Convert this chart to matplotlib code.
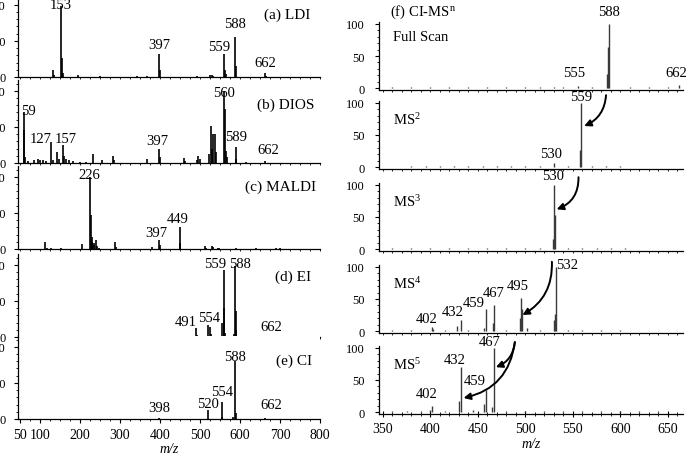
import matplotlib.pyplot as plt
from matplotlib.ticker import MultipleLocator, FixedLocator

plt.rcParams['font.family'] = ['Liberation Serif', 'DejaVu Serif']
plt.rcParams['mathtext.fontset'] = 'custom'
plt.rcParams['mathtext.rm'] = 'Liberation Serif'
plt.rcParams['mathtext.it'] = 'Liberation Serif:italic'

# ---- left column spectra (m/z, relative intensity) ----
ldi_mz = [133, 135, 153, 155, 158, 195, 250, 342, 367, 397, 399, 492, 525, 529, 533,
          559, 562, 565, 588, 590, 662, 665]
ldi_int = [10, 3, 98, 26, 6, 3, 2, 1, 1, 32, 10, 1, 3, 3, 2,
           32, 10, 4, 55, 15, 6, 2]

dios_mz = [59, 61, 63, 70, 85, 95, 100, 108, 115, 127, 133, 142, 147, 157, 160, 165,
           172, 182, 200, 215, 233, 254, 282, 284, 367, 397, 399, 461, 463, 492, 496,
           500, 523, 527, 530, 533, 537, 540, 560, 562, 565, 568, 589, 591, 615, 662]
dios_int = [70, 46, 8, 3, 4, 5, 4, 4, 3, 29, 4, 15, 5, 25, 10, 6,
            4, 3, 2, 2, 13, 4, 10, 4, 5, 20, 8, 7, 3, 4, 10,
            6, 12, 51, 20, 40, 40, 15, 100, 75, 17, 8, 22, 5, 2, 3]

maldi_mz = [113, 117, 127, 153, 204, 226, 227, 229, 231, 234, 236, 240, 242, 247,
            288, 290, 379, 397, 399, 449, 451, 513, 515, 529, 532, 546, 548, 590,
            640, 690, 700]
maldi_int = [10, 2, 2, 1, 7, 100, 47, 16, 10, 8, 6, 12, 4, 2,
             10, 3, 3, 13, 5, 31, 8, 4, 2, 4, 3, 2, 2, 1,
             1, 1, 1]

ei_mz = [120, 160, 200, 240, 280, 320, 360, 400, 440, 470, 491, 493, 521, 524, 527,
         555, 559, 560, 561, 563, 586, 588, 589, 590, 637, 662]
ei_int = [0.7, 0.7, 0.7, 0.7, 0.7, 0.7, 0.7, 0.7, 0.7, 0.7, 12, 3, 16, 14, 4,
          19, 93, 40, 21, 5, 4, 98, 36, 10, 1, 2]

ci_mz = [150, 250, 300, 350, 398, 450, 500, 520, 554, 556, 583, 588, 590, 662, 700]
ci_int = [0.6, 0.6, 0.6, 0.6, 1, 0.6, 0.6, 13, 23, 3, 3, 80, 8, 1, 0.6]

# ---- right column spectra (CI-MSn) ----
full_mz = [360, 380, 400, 420, 440, 460, 480, 500, 515, 530, 540, 555, 570, 586, 587,
           588, 610, 630, 650, 662]
full_int = [1, 1, 1, 1, 1, 1, 1, 1, 2, 1, 1, 3, 1, 22, 64, 100, 1, 1, 1, 5]

ms2_mz = [380, 395, 410, 425, 440, 455, 470, 485, 500, 515, 530, 545, 558, 559, 570,
          585, 600]
ms2_int = [1, 1, 1, 1, 1, 1, 1, 1, 1, 1, 7, 1, 26, 100, 1, 1, 1]

ms3_mz = [360, 380, 400, 420, 440, 460, 480, 500, 515, 529, 530, 531, 545, 560, 575,
          590, 605]
ms3_int = [1, 1, 1, 1, 1, 1, 1, 1, 1, 15, 100, 53, 1, 1, 2, 1, 1]

ms4_mz = [360, 380, 402, 403, 415, 428, 432, 440, 457, 459, 466, 467, 480, 494, 495,
          496, 502, 515, 530, 531, 532, 545, 560, 580, 600]
ms4_int = [2, 1, 6, 3, 1, 8, 18, 2, 5, 35, 12, 40, 1, 20, 52, 35, 5, 1, 17, 27, 100,
           1, 1, 1, 1]

ms5_mz = [360, 375, 390, 400, 402, 415, 430, 432, 445, 457, 459, 465, 467, 480, 500,
          520, 540, 560, 580, 600, 620, 640]
ms5_int = [1, 1, 1, 4, 9, 1, 18, 71, 3, 12, 34, 8, 100, 1, 1, 1, 1, 1, 1, 1, 1, 1]

# peak labels: (text, m/z, height)
ldi_labels = [('153', 153, 92), ('397', 397, 36), ('559', 547, 33), ('588', 588, 65),
              ('662', 662, 11)]
dios_labels = [('59', 70, 64), ('127', 102, 25), ('157', 164, 25), ('397', 394, 22),
               ('560', 560, 89), ('589', 589, 28), ('662', 670, 10)]
maldi_labels = [('226', 224, 94), ('397', 390, 14), ('449', 445, 33)]
ei_labels = [('559', 537, 93), ('588', 600, 93), ('491', 465, 12), ('554', 523, 18),
             ('662', 678, 5)]
ci_labels = [('398', 398, 7), ('520', 520, 12), ('554', 554, 29), ('588', 588, 78),
             ('662', 678, 11)]

full_labels = [('555', 551, 14), ('588', 588, 109), ('662', 659, 14)]
ms2_labels = [('559', 559, 100), ('530', 527, 11)]
ms3_labels = [('530', 529, 105)]
ms4_labels = [('532', 544, 94), ('495', 492, 61), ('467', 467, 50), ('459', 446, 34),
              ('432', 424, 20), ('402', 396, 9)]
ms5_labels = [('467', 462, 100), ('432', 426, 72), ('459', 447, 39), ('402', 396, 19)]

left_sets = [(ldi_mz, ldi_int, ldi_labels, '(a) LDI', 0.89, 0.76),
             (dios_mz, dios_int, dios_labels, '(b) DIOS', 0.885, 0.71),
             (maldi_mz, maldi_int, maldi_labels, '(c) MALDI', 0.87, 0.76),
             (ei_mz, ei_int, ei_labels, '(d) EI', 0.91, 0.73),
             (ci_mz, ci_int, ci_labels, '(e) CI', 0.915, 0.71)]

right_sets = [(full_mz, full_int, full_labels, 'Full Scan'),
              (ms2_mz, ms2_int, ms2_labels, 'MS$^2$'),
              (ms3_mz, ms3_int, ms3_labels, 'MS$^3$'),
              (ms4_mz, ms4_int, ms4_labels, 'MS$^4$'),
              (ms5_mz, ms5_int, ms5_labels, 'MS$^5$')]

W, H = 687, 456
fig = plt.figure(figsize=(W / 100, H / 100), dpi=100)


def add_ax(x, ybot, w, h):
    return fig.add_axes([x / W, 1 - ybot / H, w / W, h / H])


def style(ax):
    for s in ['top', 'right']:
        ax.spines[s].set_visible(False)
    for s in ['left', 'bottom']:
        ax.spines[s].set_linewidth(0.9)
    ax.tick_params(axis='y', which='major', length=3, width=0.8, pad=6, labelsize=9)
    ax.tick_params(axis='y', which='minor', length=1.5, width=0.6)
    ax.tick_params(axis='x', which='major', length=3, width=0.8, labelsize=10)
    ax.tick_params(axis='x', which='minor', length=1.5, width=0.6)
    ax.yaxis.set_major_locator(FixedLocator([0, 50, 100]))
    ax.yaxis.set_minor_locator(MultipleLocator(10))


# left column
left_bottoms = [78, 164, 250, 338, 420]
for i, (mz, inten, labels, title, tx, ty) in enumerate(left_sets):
    ax = add_ax(18, left_bottoms[i], 302, 83)
    ax.vlines(mz, 0, inten, color='black', linewidth=1.2)
    ax.set_xlim(45, 800)
    ax.set_ylim(0, 115)
    style(ax)
    ax.xaxis.set_minor_locator(MultipleLocator(25))
    for txt, x, y in labels:
        ax.text(x, y, txt, ha='center', va='bottom', fontsize=10.5)
    ax.text(tx, ty, title, transform=ax.transAxes, ha='center', va='center', fontsize=11)
    if i < 4:
        ax.set_xticks([])
        ax.xaxis.set_minor_locator(MultipleLocator(25))
        ax.tick_params(axis='x', which='minor', length=1.2)
    else:
        ax.set_xticks([50, 100, 200, 300, 400, 500, 600, 700, 800])
        ax.set_xlabel('m/z', fontstyle='italic', fontsize=10, labelpad=1)

# right column
right_axes = []
right_bottoms = [91, 170, 252, 334, 415]
for i, (mz, inten, labels, title) in enumerate(right_sets):
    ax = add_ax(379, right_bottoms[i], 304, 68)
    ax.vlines(mz, 0, inten, color='#3a3a3a', linewidth=1.0)
    ax.set_xlim(346, 666)
    ax.set_ylim(-3, 103)
    style(ax)
    ax.tick_params(axis='y', labelsize=9, pad=7)
    ax.xaxis.set_minor_locator(MultipleLocator(10))
    for txt, x, y in labels:
        ax.text(x, y, txt, ha='center', va='bottom', fontsize=10.5)
    ax.text(0.045, 0.78 if i == 0 else 0.74, title, transform=ax.transAxes,
            ha='left', va='center', fontsize=10.5)
    if i < 4:
        ax.set_xticks([])
        ax.tick_params(axis='x', which='minor', length=1.2)
    else:
        ax.set_xticks([350, 400, 450, 500, 550, 600, 650])
        ax.tick_params(axis='x', which='both', direction='inout')
        ax.tick_params(axis='x', which='major', length=5)
        ax.tick_params(axis='x', which='minor', length=3)
        ax.set_xlabel('m/z', fontstyle='italic', fontsize=10, labelpad=1)
    right_axes.append(ax)

right_axes[0].text(0.036, 1.03, '(f) CI-MS$^{\\rm n}$', transform=right_axes[0].transAxes,
                   ha='left', va='bottom', fontsize=10.5)

# precursor -> product arrows
arrow_kw = dict(arrowstyle='-|>', color='black', lw=1.4, mutation_scale=10,
                shrinkA=0, shrinkB=0)
arrows = [(1, (585, 112), (562, 64), -0.3),
          (2, (556, 112), (533, 62), -0.35),
          (3, (528, 108), (497, 25), -0.3),
          (4, (489, 109), (469, 70), -0.3),
          (4, (489, 109), (435, 22), -0.35)]
for k, start, end, rad in arrows:
    right_axes[k].annotate('', xy=end, xytext=start, annotation_clip=False,
                           arrowprops=dict(connectionstyle='arc3,rad=%s' % rad, **arrow_kw))

fig.savefig('out.png', dpi=100)
